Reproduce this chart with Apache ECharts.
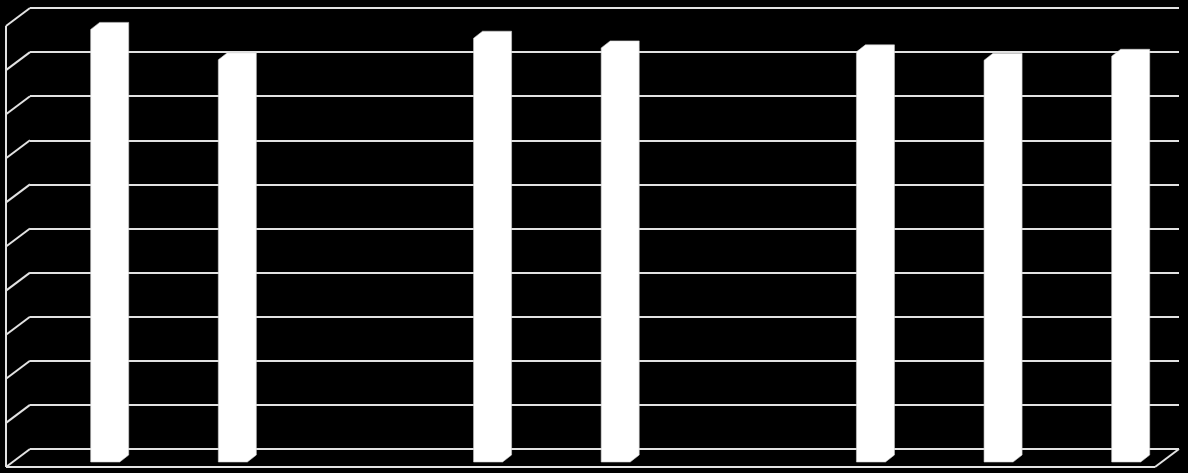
<!DOCTYPE html>
<html>
<head>
<meta charset="utf-8">
<script src="https://cdn.jsdelivr.net/npm/echarts@6/dist/echarts.min.js"></script>
<style>
html,body{margin:0;padding:0;background:#000;}
#chart{width:1188px;height:473px;}
</style>
</head>
<body>
<div id="chart"></div>
<script>
// ---- data ----
const categories = ['1', '2', '3', '4', '5', '6', '7', '8', '9'];
const values = [9.81, 9.12, null, 9.61, 9.39, null, 9.30, 9.11, 9.20];
const gridTicks = [0, 1, 2, 3, 4, 5, 6, 7, 8, 9, 10];

// ---- style constants ----
const DEPTH_X = -24, DEPTH_Y = 18;     // floor depth (back wall -> front edge)
const BAR_DX = 9, BAR_DY = 7;          // bar depth
const LINE_COLOR = '#e2e2e2';
const LINE_W = 2;

const chart = echarts.init(document.getElementById('chart'));

const wallData = gridTicks.map(v => [0, v]);
const barData = values.map((v, i) => [i, v]).filter(d => d[1] != null);

const option = {
  backgroundColor: '#000',
  animation: false,
  grid: [
    { left: 30, right: 9, top: 8, bottom: 24 },
    { left: 109.7, right: 57.3, top: 21, height: 441 }
  ],
  xAxis: [
    { gridIndex: 0, type: 'value', min: 0, max: 1, show: false },
    { gridIndex: 1, type: 'category', data: categories, boundaryGap: false, show: false }
  ],
  yAxis: [
    {
      gridIndex: 0, type: 'value', min: 0, max: 10, interval: 1,
      axisLine: { show: false }, axisTick: { show: false }, axisLabel: { show: false },
      splitLine: { show: true, lineStyle: { color: LINE_COLOR, width: LINE_W } }
    },
    { gridIndex: 1, type: 'value', min: 0, max: 10, show: false }
  ],
  series: [
    {
      type: 'custom',
      xAxisIndex: 0, yAxisIndex: 0,
      data: wallData,
      z: 1,
      silent: true,
      renderItem: function (params, api) {
        const v = api.value(1);
        const p0 = api.coord([0, v]);
        const children = [{
          type: 'line',
          shape: { x1: p0[0], y1: p0[1], x2: p0[0] + DEPTH_X, y2: p0[1] + DEPTH_Y },
          style: { stroke: LINE_COLOR, lineWidth: LINE_W }
        }];
        if (v === 0) {
          const p1 = api.coord([1, 0]);
          const top = api.coord([0, gridTicks[gridTicks.length - 1]]);
          children.push({
            type: 'line',
            shape: { x1: p0[0] + DEPTH_X, y1: p0[1] + DEPTH_Y, x2: p1[0] + DEPTH_X, y2: p1[1] + DEPTH_Y },
            style: { stroke: LINE_COLOR, lineWidth: LINE_W }
          });
          children.push({
            type: 'line',
            shape: { x1: p1[0], y1: p1[1], x2: p1[0] + DEPTH_X, y2: p1[1] + DEPTH_Y },
            style: { stroke: LINE_COLOR, lineWidth: LINE_W }
          });
          children.push({
            type: 'line',
            shape: { x1: top[0] + DEPTH_X, y1: top[1] + DEPTH_Y, x2: p0[0] + DEPTH_X, y2: p0[1] + DEPTH_Y },
            style: { stroke: LINE_COLOR, lineWidth: LINE_W }
          });
        }
        return { type: 'group', children: children };
      }
    },
    {
      type: 'custom',
      xAxisIndex: 1, yAxisIndex: 1,
      data: barData,
      z: 5,
      renderItem: function (params, api) {
        const top = api.coord([api.value(0), api.value(1)]);
        const base = api.coord([api.value(0), 0]);
        const step = api.coord([1, 0])[0] - api.coord([0, 0])[0];
        const w = step * 0.298;
        const L = top[0] - w / 2, R = top[0] + w / 2;
        const t = top[1], b = base[1];
        return {
          type: 'polygon',
          shape: {
            points: [
              [L, t], [L + BAR_DX, t - BAR_DY], [R, t - BAR_DY],
              [R, b - BAR_DY], [R - BAR_DX, b], [L, b]
            ]
          },
          style: { fill: '#ffffff', stroke: '#cfcfcf', lineWidth: 0.6 }
        };
      }
    }
  ]
};

chart.setOption(option);
</script>
</body>
</html>
